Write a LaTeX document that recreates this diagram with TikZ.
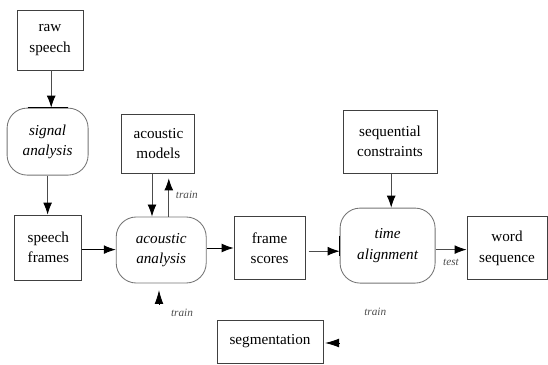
\documentclass[tikz,border=0pt]{standalone}
\usepackage{fontspec}
\setmainfont{Liberation Serif}
\newfontfamily\diagfont{Liberation Serif}
\usetikzlibrary{arrows.meta}

\begin{document}
\begin{tikzpicture}[font=\diagfont\fontsize{10.8}{14.5}\selectfont, line width=0.6pt]
	\tikzset{databox/.style={draw=black!75, align=center, inner sep=0pt},
		procbox/.style={draw=black!55, rounded corners=0.5cm, align=center, inner sep=0pt, font=\diagfont\fontsize{10.8}{14.5}\selectfont\itshape},
		flow/.style={draw=black!70, -{Latex[length=3mm,width=2.2mm,black]}},
		lonetip/.style={-{Latex[length=3.5mm,width=2.2mm,black]}},
		note/.style={font=\diagfont\fontsize{8}{9}\selectfont\itshape, text=black!70}}
	\useasboundingbox (0,0) rectangle (13.7,-9.125);

	\draw (1.25,-1.0) node [databox, minimum width=1.65cm, minimum height=1.5cm] (raw) {raw\\speech};
	\draw (1.19,-3.54) node [procbox, minimum width=2.025cm, minimum height=1.675cm] (signal) {signal\\analysis};
	\draw (3.96,-3.59) node [databox, minimum width=1.825cm, minimum height=1.475cm] (models) {acoustic\\models};
	\draw (1.21,-6.19) node [databox, minimum width=1.675cm, minimum height=1.625cm] (frames) {speech\\frames};
	\draw (4.03,-6.25) node [procbox, minimum width=2.25cm, minimum height=1.65cm] (acoustic) {acoustic\\analysis};
	\draw (6.74,-6.21) node [databox, minimum width=1.775cm, minimum height=1.575cm] (scores) {frame\\scores};
	\draw (6.75,-8.54) node [databox, minimum width=2.65cm, minimum height=1.075cm] (segment) {segmentation};
	\draw (9.75,-3.54) node [databox, minimum width=2.35cm, minimum height=1.575cm] (constr) {sequential\\constraints};
	\draw (9.69,-6.14) node [procbox, minimum width=2.375cm, minimum height=1.875cm] (align) {time\\alignment};
	\draw (12.675,-6.21) node [databox, minimum width=2.0cm, minimum height=1.575cm] (words) {word\\sequence};

	% flat bits on the rounded boxes
	\draw [black] ([xshift=-0.5cm]signal.north) -- ([xshift=0.5cm]signal.north);
	\draw [black] ([yshift=0.25cm]align.west) -- ([yshift=-0.25cm]align.west);

	\draw [flow] ([xshift=0.03cm]raw.south) -- ([xshift=0.03cm]raw.south|-signal.north);
	\draw [flow] (signal.south) -- (signal.south|-frames.north);
	\draw [flow, draw=black] ([yshift=-0.05cm]frames.east) -- ([yshift=-0.05cm]frames.east-|acoustic.west);
	\draw [flow] ([xshift=-0.16cm]models.south) -- ([xshift=-0.16cm]models.south|-acoustic.north);
	\draw [flow, shorten >=0.12cm] ([xshift=0.26cm]models.south|-acoustic.north) -- ([xshift=0.26cm]models.south) node [note, midway, right=0.05cm] {train};
	\draw [flow, draw=black] ([yshift=0.05cm]acoustic.east) -- ([yshift=0.05cm]acoustic.east-|scores.west);
	\draw [flow, shorten <=0.08cm] ([yshift=-0.07cm]scores.east) -- ([yshift=-0.07cm]scores.east-|align.west);
	\draw [flow] ([xshift=0.03cm]constr.south) -- ([xshift=0.03cm]constr.south|-align.north);
	\draw [flow] ([yshift=-0.1cm]align.east) -- ([yshift=-0.1cm]align.east-|words.west) node [note, midway, below=0.12cm] {test};

	% loose train inputs
	\coordinate (trainA) at (3.975,-7.6);
	\coordinate (trainB) at (8.475,-8.575);
	\draw [lonetip] (trainA) -- ++(0,0.35);
	\draw [lonetip] (trainB) -- ++(-0.35,0);
	\draw (4.55,-7.82) node [note] {train};
	\draw (9.38,-7.8) node [note] {train};
\end{tikzpicture}
\end{document}
